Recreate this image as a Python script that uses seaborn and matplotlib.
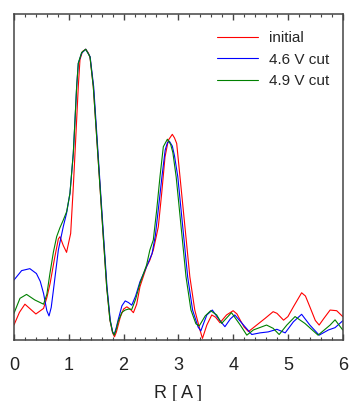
import matplotlib

matplotlib.use("Agg")

import matplotlib.pyplot as plt
import pandas as pd
import seaborn as sns
from matplotlib.ticker import MultipleLocator

# |chi(R)| curves (arbitrary units)
R_INITIAL = [0.00, 0.10, 0.20, 0.30, 0.40, 0.54, 0.60, 0.66, 0.74, 0.81, 0.84,
             0.90, 0.96, 1.00, 1.035, 1.083, 1.114, 1.144, 1.175, 1.205, 1.25,
             1.31, 1.36, 1.39, 1.448, 1.509, 1.570, 1.630, 1.692, 1.752, 1.80,
             1.835, 1.87, 1.94, 2.00, 2.06, 2.12, 2.18, 2.24, 2.30, 2.42, 2.48,
             2.543, 2.60, 2.635, 2.696, 2.757, 2.817, 2.89, 2.93, 2.97, 3.03,
             3.09, 3.15, 3.21, 3.30, 3.395, 3.44, 3.52, 3.61, 3.68, 3.76, 3.88,
             4.00, 4.07, 4.13, 4.20, 4.28, 4.43, 4.58, 4.73, 4.80, 4.92, 5.00,
             5.10, 5.25, 5.32, 5.40, 5.50, 5.57, 5.65, 5.77, 5.89, 6.00]
Y_INITIAL = [0.046, 0.085, 0.110, 0.095, 0.080, 0.097, 0.130, 0.174, 0.250,
             0.310, 0.317, 0.290, 0.269, 0.300, 0.327, 0.470, 0.573, 0.675,
             0.780, 0.860, 0.885, 0.892, 0.880, 0.865, 0.777, 0.624, 0.470,
             0.317, 0.163, 0.061, 0.022, 0.010, 0.025, 0.070, 0.095, 0.102,
             0.095, 0.084, 0.110, 0.164, 0.225, 0.245, 0.276, 0.320, 0.348,
             0.450, 0.562, 0.613, 0.631, 0.620, 0.603, 0.501, 0.399, 0.297,
             0.194, 0.092, 0.031, 0.005, 0.046, 0.077, 0.070, 0.053, 0.077,
             0.090, 0.080, 0.061, 0.040, 0.026, 0.046, 0.066, 0.087, 0.082,
             0.061, 0.072, 0.102, 0.145, 0.135, 0.102, 0.060, 0.046, 0.065,
             0.092, 0.090, 0.072]

R_46 = [0.00, 0.14, 0.29, 0.41, 0.48, 0.54, 0.60, 0.64, 0.68, 0.72, 0.81, 0.90,
        0.96, 1.022, 1.083, 1.114, 1.144, 1.174, 1.235, 1.31, 1.39, 1.455,
        1.515, 1.575, 1.636, 1.698, 1.758, 1.80, 1.83, 1.87, 1.90, 1.97, 2.03,
        2.09, 2.15, 2.22, 2.30, 2.42, 2.52, 2.58, 2.64, 2.70, 2.76, 2.80, 2.836,
        2.89, 2.93, 2.99, 3.05, 3.11, 3.17, 3.26, 3.36, 3.41, 3.47, 3.52, 3.62,
        3.73, 3.85, 3.95, 4.03, 4.19, 4.34, 4.49, 4.64, 4.80, 4.95, 5.10, 5.25,
        5.40, 5.57, 5.74, 5.86, 6.00]
Y_46 = [0.184, 0.213, 0.219, 0.204, 0.180, 0.143, 0.090, 0.074, 0.100, 0.153,
        0.276, 0.348, 0.389, 0.450, 0.573, 0.675, 0.777, 0.849, 0.880, 0.892,
        0.869, 0.777, 0.624, 0.470, 0.317, 0.163, 0.061, 0.025, 0.017, 0.040,
        0.061, 0.105, 0.120, 0.115, 0.107, 0.135, 0.179, 0.225, 0.265, 0.320,
        0.409, 0.500, 0.583, 0.605, 0.610, 0.595, 0.565, 0.501, 0.399, 0.297,
        0.194, 0.092, 0.040, 0.028, 0.055, 0.077, 0.092, 0.066, 0.041, 0.065,
        0.077, 0.046, 0.017, 0.022, 0.025, 0.033, 0.022, 0.056, 0.079, 0.046,
        0.015, 0.031, 0.038, 0.059]

R_49 = [0.00, 0.11, 0.23, 0.38, 0.54, 0.60, 0.657, 0.72, 0.779, 0.84, 0.90,
        0.962, 1.022, 1.083, 1.114, 1.144, 1.174, 1.235, 1.31, 1.387, 1.448,
        1.509, 1.570, 1.630, 1.692, 1.752, 1.80, 1.83, 1.87, 1.90, 1.97, 2.03,
        2.09, 2.15, 2.22, 2.30, 2.42, 2.48, 2.543, 2.605, 2.665, 2.726, 2.80,
        2.86, 2.90, 2.96, 3.02, 3.08, 3.14, 3.23, 3.32, 3.38, 3.49, 3.59, 3.70,
        3.79, 3.97, 4.13, 4.25, 4.37, 4.61, 4.73, 4.84, 4.98, 5.13, 5.31, 5.55,
        5.77, 5.86, 6.00]
Y_49 = [0.082, 0.128, 0.140, 0.123, 0.110, 0.140, 0.205, 0.270, 0.317, 0.345,
        0.368, 0.394, 0.450, 0.573, 0.675, 0.777, 0.849, 0.882, 0.892, 0.869,
        0.777, 0.624, 0.470, 0.317, 0.163, 0.061, 0.025, 0.015, 0.035, 0.056,
        0.085, 0.092, 0.095, 0.094, 0.125, 0.174, 0.230, 0.276, 0.307, 0.399,
        0.501, 0.593, 0.616, 0.600, 0.575, 0.501, 0.399, 0.297, 0.194, 0.092,
        0.050, 0.043, 0.074, 0.090, 0.077, 0.051, 0.084, 0.046, 0.015, 0.031,
        0.046, 0.036, 0.017, 0.046, 0.072, 0.051, 0.015, 0.046, 0.062, 0.031]

LABELS = ["initial", "4.6 V cut", "4.9 V cut"]
COLORS = ["#ff0000", "#0000ff", "#008000"]


def main() -> None:
    sns.set_style("ticks")
    plt.rcParams["font.family"] = ["Liberation Sans", "DejaVu Sans"]

    frames = []
    for lab, rs, ys in zip(LABELS, [R_INITIAL, R_46, R_49],
                           [Y_INITIAL, Y_46, Y_49]):
        frames.append(pd.DataFrame({"R": rs, "chi": ys, "sample": lab}))
    df = pd.concat(frames, ignore_index=True)

    fig = plt.figure(figsize=(3.49, 4.01), dpi=100)
    ax = fig.add_axes([0.040, 0.152, 0.942, 0.813])
    sns.lineplot(
        data=df, x="R", y="chi", hue="sample", hue_order=LABELS,
        palette=COLORS, sort=False, estimator=None, lw=0.8, ax=ax,
    )
    ax.set_xlim(0, 6)
    ax.set_ylim(0, 1.0)
    ax.set_yticks([])
    ax.set_ylabel("")
    ax.set_xlabel("R [ A ]", fontsize=13, color="#222", labelpad=8)
    ax.xaxis.set_major_locator(MultipleLocator(1))
    ax.xaxis.set_minor_locator(MultipleLocator(0.2))
    ax.tick_params(axis="x", which="both", direction="in", top=True,
                   color="#444", labelsize=13, labelcolor="#222", pad=12)
    ax.tick_params(axis="x", which="major", length=4, width=1)
    ax.tick_params(axis="x", which="minor", length=2.5, width=0.8)
    for sp in ax.spines.values():
        sp.set_visible(True)
        sp.set_color("#444")
        sp.set_linewidth(1.1)

    ax.legend(
        loc="upper right", frameon=False, fontsize=11, handlelength=2.7,
        handletextpad=0.7, labelspacing=0.5, bbox_to_anchor=(1.0, 0.99),
    )
    fig.savefig("out.png", dpi=100)
    plt.close(fig)


if __name__ == "__main__":
    main()
